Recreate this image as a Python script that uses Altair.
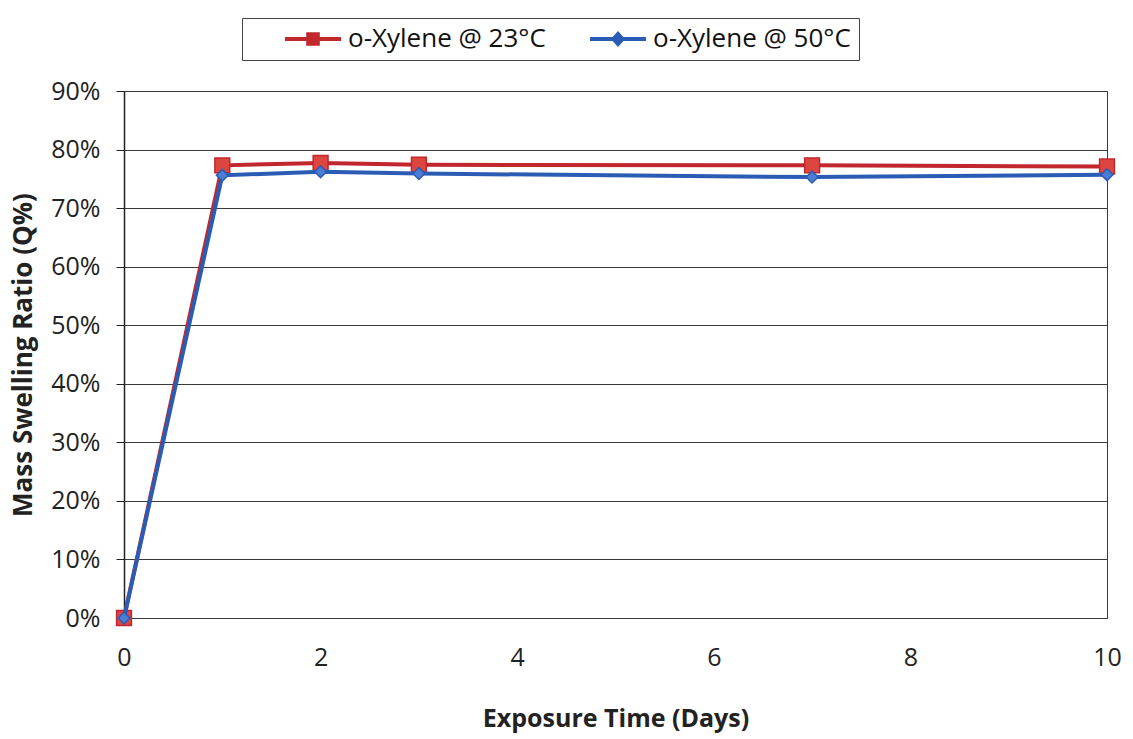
import altair as alt
import pandas as pd

# ---- data ----
days = [0, 1, 2, 3, 7, 10]
q_23 = [0.0, 77.3, 77.7, 77.4, 77.3, 77.1]   # o-Xylene @ 23°C  (%)
q_50 = [0.0, 75.6, 76.2, 75.9, 75.3, 75.7]   # o-Xylene @ 50°C  (%)
series_names = ["o-Xylene @ 23°C", "o-Xylene @ 50°C"]
x_ticks = [0, 2, 4, 6, 8, 10]
y_ticks = [0.0, 0.1, 0.2, 0.3, 0.4, 0.5, 0.6, 0.7, 0.8, 0.9]

rows = []
for d, a, b in zip(days, q_23, q_50):
    rows.append({"day": d, "q": a / 100.0, "series": series_names[0]})
    rows.append({"day": d, "q": b / 100.0, "series": series_names[1]})
df = pd.DataFrame(rows)

# ---- styling ----
FONT = "Open Sans"
line_colors = ["#C1272D", "#2B5CB5"]
marker_fill = ["#DC4540", "#4C7DD3"]
marker_shape = ["square", "diamond"]
marker_size = [220, 140]
legend_paths = [
    "M-3.5,-0.26H3.5V0.26H-3.5Z M-0.85,-0.85H0.85V0.85H-0.85Z",
    "M-3.5,-0.26H3.5V0.26H-3.5Z M0,-1L0.9,0L0,1L-0.9,0Z",
]

color_scale = alt.Scale(domain=series_names, range=line_colors)
shape_scale = alt.Scale(domain=series_names, range=legend_paths)

legend = alt.Legend(
    title=" ", titleOrient="left", titlePadding=50, titleFontSize=4,
    orient="none", legendX=118, legendY=-73, direction="horizontal",
    strokeColor="#444", padding=8, fillColor="white",
    labelFont=FONT, labelFontSize=26, labelColor="#111", labelOffset=22,
    labelLimit=0,
    symbolSize=256, columnPadding=44, symbolStrokeWidth=0,
)

x_enc = alt.X(
    "day:Q",
    scale=alt.Scale(domain=[0, 10], nice=False, zero=False),
    axis=alt.Axis(
        values=x_ticks, title="Exposure Time (Days)", grid=False,
        ticks=False, domain=False, labelPadding=27, labelFlush=False,
        labelFont=FONT, labelFontSize=25, labelColor="#222",
        titleFont=FONT, titleFontSize=25, titleFontWeight="bold",
        titleColor="#222", titlePadding=36,
    ),
)
y_enc = alt.Y(
    "q:Q",
    scale=alt.Scale(domain=[0, 0.9], nice=False),
    axis=alt.Axis(
        values=y_ticks, format=".0%", title="Mass Swelling Ratio (Q%)",
        grid=True, gridColor="#3a3a3a", gridWidth=1,
        domainColor="#222", domainWidth=1.5,
        tickColor="#222", tickSize=8, labelPadding=16,
        labelFont=FONT, labelFontSize=25, labelColor="#222",
        titleFont=FONT, titleFontSize=26, titleFontWeight="bold",
        titleColor="#222", titlePadding=14,
    ),
)

base = alt.Chart(df)
layers = []
for i, name in enumerate(series_names):
    sub = base.transform_filter(alt.datum.series == name)
    layers.append(
        sub.mark_line(strokeWidth=4).encode(
            x=x_enc, y=y_enc,
            color=alt.Color("series:N", scale=color_scale, legend=legend),
        )
    )
    layers.append(
        sub.mark_point(
            shape=marker_shape[i], filled=True, size=marker_size[i],
            fill=marker_fill[i], stroke=line_colors[i], strokeWidth=1.5,
            opacity=1,
        ).encode(x=x_enc, y=y_enc)
    )

# empty layer carrying the legend symbols (line + marker)
legend_layer = base.transform_filter("false").mark_point(filled=True, opacity=1).encode(
    x=x_enc, y=y_enc,
    color=alt.Color("series:N", scale=color_scale, legend=legend),
    shape=alt.Shape("series:N", scale=shape_scale, legend=legend),
)
layers.append(legend_layer)

chart = alt.layer(*layers).properties(
    width=983, height=527,
    autosize=alt.AutoSizeParams(type="none"),
    padding={"left": 124, "top": 91, "right": 26, "bottom": 121},
    background="white",
).configure_view(stroke="#3a3a3a", strokeWidth=1)

chart.save("out.html", embed_options={"renderer": "svg", "actions": False})
